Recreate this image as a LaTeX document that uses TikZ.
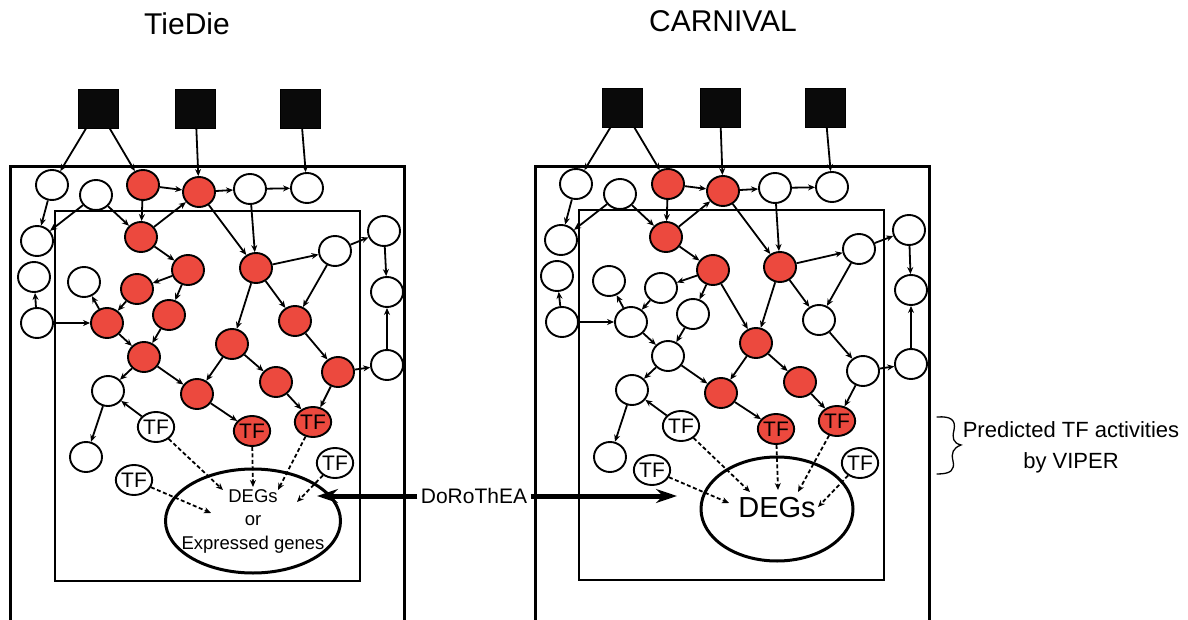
\documentclass[tikz,border=0pt]{standalone}
\usepackage{fontspec}
\setmainfont{Liberation Sans}
\usetikzlibrary{shapes.geometric,arrows.meta}
\definecolor{nodered}{RGB}{236,73,62}
\tikzset{
  gene/.style={ellipse, draw, line width=1.9pt, minimum width=32pt, minimum height=30pt, inner sep=0pt, fill=white},
  act/.style={gene, fill=nodered},
  tfnode/.style={gene, font=\fontsize{21}{21}\selectfont},
  acttf/.style={act, font=\fontsize{21}{21}\selectfont},
  input/.style={draw, fill=black!96, minimum width=40pt, minimum height=39pt, inner sep=0pt, line width=.6pt},
  edge/.style={line width=1.8pt, -{Stealth[length=7pt,width=6pt]}},
  regul/.style={line width=1.8pt, dash pattern=on 4pt off 2.5pt, -{Stealth[length=7pt,width=6pt]}},
  outerbox/.style={line width=3pt},
  innerbox/.style={line width=2pt},
  degset/.style={ellipse, draw, line width=3pt, inner sep=0pt},
  bigarrow/.style={line width=5pt, -{Stealth[length=21pt,width=14pt,inset=7pt]}},
  title/.style={font=\fontsize{30}{34}\selectfont, anchor=base},
}
\begin{document}
\begin{tikzpicture}[x=1pt,y=-1pt]
\useasboundingbox (0,0) rectangle (1188,620);

% panel titles
\node[title] (td-title) at (187,35) {TieDie};
\node[title] (cv-title) at (723,32) {CARNIVAL};

% cell and nucleus frames
\draw[outerbox] (10,620) -- (10,167) -- (404,167) -- (404,620);
\draw[innerbox] (55,211) rectangle (360,581);
\draw[outerbox] (535,620) -- (535,167) -- (929,167) -- (929,620);
\draw[innerbox] (579,210) rectangle (884,580);

% input perturbations
\node[input] (td-s1) at (98,108.5) {};
\node[input] (td-s2) at (195.5,108.5) {};
\node[input] (td-s3) at (300.5,108.5) {};
\node[input] (cv-s1) at (622.5,107.5) {};
\node[input] (cv-s2) at (720,107.5) {};
\node[input] (cv-s3) at (825,107.5) {};

% TieDie network
\foreach \i/\x/\y/\s in {
  1/52/185/gene, 2/96/195/gene, 3/143/185/act, 4/199/192/act, 5/250/189/gene,
  6/307/188/gene, 7/37/241/gene, 8/141/237/act, 9/335/251/gene, 10/384/231/gene,
  11/34/277/gene, 12/37/323/gene, 13/84/282/gene, 14/188/270/act, 15/137/289/act,
  16/107/323/act, 17/169/315/act, 18/144/357/act, 19/256/268/act, 20/387/292/gene,
  21/295/321/act, 22/232/344/act, 23/338/372/act, 24/387/365/gene, 25/276/382/act,
  26/197/394/act, 27/108/391/gene, 28/86/457/gene}
  \node[\s] (td-\i) at (\x,\y) {};
\node[tfnode] (td-tf1) at (156,427) {TF};
\node[acttf]  (td-tf2) at (252,431) {TF};
\node[acttf]  (td-tf3) at (313,422) {TF};
\node[tfnode] (td-tf4) at (134,480) {TF};
\node[tfnode] (td-tf5) at (335,463) {TF};

% CARNIVAL network
\foreach \i/\x/\y/\s in {
  1/576/184/gene, 2/620/194/gene, 3/668/184/act, 4/723/191/act, 5/775/188/gene,
  6/832/187/gene, 7/561/240/gene, 8/666/237/act, 9/859/249/gene, 10/909/230/gene,
  11/557/276/gene, 12/562/322/gene, 13/609/281/gene, 14/713/270/act, 15/661/288/gene,
  16/631/322/gene, 17/693/314/gene, 18/668/356/gene, 19/780/267/act, 20/911/290/gene,
  21/819/320/gene, 22/756/343/act, 23/863/371/gene, 24/911/364/gene, 25/800/382/act,
  26/721/393/act, 27/632/390/gene, 28/610/457/gene}
  \node[\s] (cv-\i) at (\x,\y) {};
\node[tfnode] (cv-tf1) at (681,426) {TF};
\node[acttf]  (cv-tf2) at (776,429) {TF};
\node[acttf]  (cv-tf3) at (837,421) {TF};
\node[tfnode] (cv-tf4) at (652,470) {TF};
\node[tfnode] (cv-tf5) at (860,463) {TF};

% signalling edges, shared by both networks
\foreach \p in {td,cv}{
  \foreach \a/\b in {s1/1, s1/3, s2/4, s3/6, 3/4, 4/5, 5/6, 1/7, 2/7, 2/8, 3/8, 8/4,
    4/19, 5/19, 19/9, 9/10, 8/14, 10/20, 12/11, 12/16, 16/13, 15/16, 14/15, 14/17,
    16/18, 17/18, 18/27, 18/26, 19/21, 9/21, 19/22, 21/23, 23/24, 24/20, 22/26,
    22/25, 25/tf3, 23/tf3, 26/tf2, tf1/27, 27/28}
    \draw[edge] (\p-\a) -- (\p-\b);
}
\draw[edge] (cv-14) -- (cv-22);

% target gene sets
\node[degset, minimum width=175pt, minimum height=104pt] (td-deg) at (253,521) {};
\node[font=\fontsize{18.5}{23.5}\selectfont, align=center] (td-degtext) at (253,521) {DEGs\\or\\Expressed genes};
\node[degset, minimum width=152pt, minimum height=104pt] (cv-deg) at (777,509) {};
\node[font=\fontsize{29}{32}\selectfont] (cv-degtext) at (777,508) {DEGs};

% regulon links from TFs to their targets
\coordinate (td-e1) at (223,490);
\coordinate (td-e2) at (253,487);
\coordinate (td-e3) at (278,490);
\coordinate (td-e4) at (211,513);
\coordinate (td-e5) at (297,502);
\coordinate (cv-e1) at (750,492);
\coordinate (cv-e2) at (778,490);
\coordinate (cv-e3) at (798,492);
\coordinate (cv-e4) at (729,503);
\coordinate (cv-e5) at (818,507);
\foreach \p in {td,cv}{
  \foreach \k in {1,...,5}
    \draw[regul] (\p-tf\k) -- (\p-e\k);
}

% DoRoThEA regulons feed both methods
\node[font=\fontsize{21}{25}\selectfont] (dor) at (474,496) {DoRoThEA};
\coordinate (td-dor) at (317,496);
\coordinate (cv-dor) at (677,496);
\draw[bigarrow] (dor.west) -- (td-dor);
\draw[bigarrow] (dor.east) -- (cv-dor);

% VIPER annotation with a hand-drawn curly brace
\coordinate (br-top) at (937,417);
\coordinate (br-bot) at (937,474);
\draw[line width=1.3pt, line cap=round]
  (br-top) .. controls (951,416) and (956,420) .. (954,430)
  .. controls (952,438) and (953,443) .. (961,445)
  .. controls (953,448) and (951,453) .. (953,461)
  .. controls (955,470) and (951,474) .. (br-bot);
\node[font=\fontsize{22}{31}\selectfont, align=center] (viper) at (1071,447) {Predicted TF activities\\by VIPER};
\end{tikzpicture}
\end{document}
